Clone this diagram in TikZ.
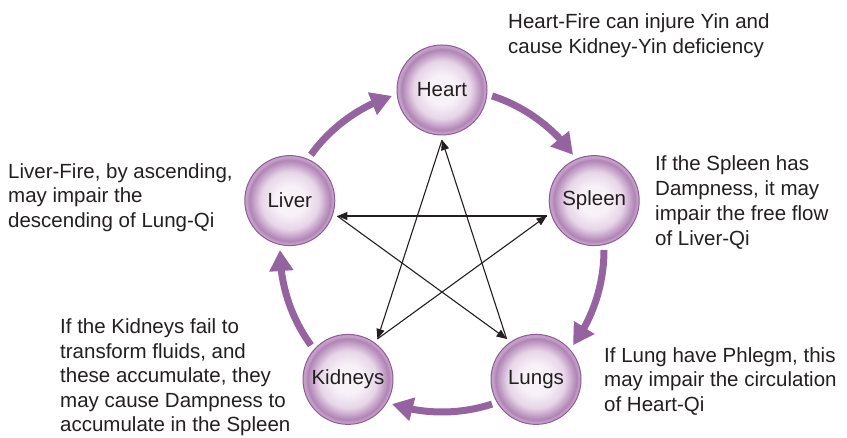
\documentclass[tikz,border=0pt]{standalone}
\usepackage{fontspec}
\setmainfont{Liberation Sans}
\usetikzlibrary{arrows.meta,bending}
\definecolor{orgIn}{HTML}{F8F2F8}
\definecolor{orgMid}{HTML}{E7D5E8}
\definecolor{orgDark}{HTML}{B084B5}
\definecolor{orgRim}{HTML}{C4A0C8}
\definecolor{orgLine}{HTML}{8E5C98}
\definecolor{arrowPurple}{HTML}{9563A0}
\definecolor{txt}{HTML}{231F20}
\pgfdeclareradialshading{organball}{\pgfpoint{0bp}{0bp}}{color(0bp)=(orgIn); color(8bp)=(orgIn); color(16bp)=(orgMid); color(22.5bp)=(orgDark); color(24bp)=(orgRim); color(25bp)=(orgRim); color(50bp)=(orgRim)}
\tikzset{
  organ/.style={circle, minimum size=90pt, inner sep=0pt, outer sep=5pt, draw=orgLine, line width=1pt, shading=organball, text=txt, font=\fontsize{20.5}{24.7}\selectfont},
  note/.style={anchor=base west, align=left, inner sep=0pt, text=txt, font=\fontsize{20.5}{24.8}\selectfont},
  bigarrow/.style={line width=7pt, draw=arrowPurple, -{Triangle[length=21pt,width=23pt,flex]}},
  stararrow/.style={line width=1.1pt, draw=txt, -{Triangle[length=10pt,width=8pt]}}
}
\begin{document}
\begin{tikzpicture}[x=1pt,y=1pt]
\useasboundingbox (0,0) rectangle (847,437);
\coordinate (c) at (442,187);
% organs
\node[organ] (heart) at (442,347) {Heart};
\node[organ] (spleen) at (594.2,236.4) {Spleen};
\node[organ] (lungs) at (536,57.6) {Lungs};
\node[organ] (kidneys) at (348,57.6) {Kidneys};
\node[organ] (liver) at (289.8,236.4) {Liver};
% generating cycle
\draw[bigarrow] ([shift={(144:162)}]c) arc[start angle=144, end angle=108, radius=162];
\draw[bigarrow] ([shift={(72:162)}]c) arc[start angle=72, end angle=36, radius=162];
\draw[bigarrow] ([shift={(0:162)}]c) arc[start angle=0, end angle=-36, radius=162];
\draw[bigarrow] ([shift={(-72:162)}]c) arc[start angle=-72, end angle=-108, radius=162];
\draw[bigarrow] ([shift={(-144:162)}]c) arc[start angle=-144, end angle=-180, radius=162];
% controlling star
\draw[stararrow] (lungs.126) -- (heart.-90);
\draw[stararrow] (heart.-90) -- (kidneys.54);
\draw[stararrow] (kidneys.54) -- (spleen.198);
\draw[stararrow] (spleen.198) -- (liver.-18);
\draw[stararrow] (liver.-18) -- (lungs.126);
% notes (anchored at the baseline of their last line)
\node[note] (n1) at (508,383.2) {Heart-Fire can injure Yin and\\cause Kidney-Yin deficiency};
\node[note] (n2) at (655,191.6) {If the Spleen has\\Dampness, it may\\impair the free flow\\of Liver-Qi};
\node[note] (n3) at (604,25.4) {If Lung have Phlegm, this\\may impair the circulation\\of Heart-Qi};
\node[note] (n4) at (8,209.4) {Liver-Fire, by ascending,\\may impair the\\descending of Lung-Qi};
\node[note, font=\fontsize{20.5}{24.4}\selectfont] (n5) at (60,5.5) {If the Kidneys fail to\\transform fluids, and\\these accumulate, they\\may cause Dampness to\\accumulate in the Spleen};
\end{tikzpicture}
\end{document}
